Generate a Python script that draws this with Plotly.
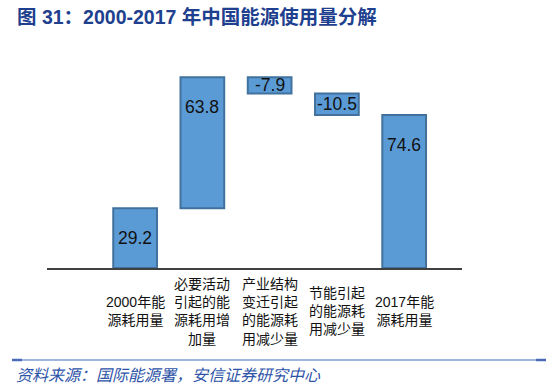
import plotly.graph_objects as go

categories = ["2000年能<br>源耗用量", "必要活动<br>引起的能<br>源耗用增<br>加量", "产业结构<br>变迁引起<br>的能源耗<br>用减少量", "节能引起<br>的能源耗<br>用减少量", "2017年能<br>源耗用量"]
values = [29.2, 63.8, -7.9, -10.5, 74.6]
measures = ["absolute", "relative", "relative", "relative", "total"]
labels = ["29.2", "63.8", "-7.9", "-10.5", "74.6"]

fill = "#5B9BD5"
edge = "#41719C"
font_fam = "Liberation Sans, Arial, Noto Sans CJK SC"

idx = list(range(len(categories)))

fig = go.Figure()
fig.add_trace(go.Waterfall(
    x=idx, y=values, measure=measures,
    width=0.65,
    increasing=dict(marker=dict(color=fill, line=dict(color=edge, width=2))),
    decreasing=dict(marker=dict(color=fill, line=dict(color=edge, width=2))),
    totals=dict(marker=dict(color=fill, line=dict(color=edge, width=2))),
    connector=dict(visible=False),
    hoverinfo="skip",
    showlegend=False,
))

# compute bar tops/bottoms from data for label placement
running = 0.0
annotations = []
for i, (v, m, lab) in enumerate(zip(values, measures, labels)):
    if m == "absolute":
        lo, hi = 0, v
        running = v
    elif m == "total":
        lo, hi = 0, running
    else:
        start = running
        running = running + v
        lo, hi = min(start, running), max(start, running)
    if hi - lo > 20:
        annotations.append(dict(x=i, y=hi, xref="x", yref="y", text=lab, showarrow=False,
                                yanchor="middle", yshift=-30,
                                font=dict(family=font_fam, size=17.5, color="#111111")))
    else:
        annotations.append(dict(x=i, y=(hi + lo) / 2, xref="x", yref="y", text=lab, showarrow=False,
                                yanchor="middle",
                                font=dict(family=font_fam, size=17.5, color="#111111")))

for i, c in enumerate(categories):
    annotations.append(dict(x=i, y=0, xref="x", yref="paper", text=c, showarrow=False,
                            yanchor="middle", xanchor="center", yshift=-43, align="center",
                            font=dict(family=font_fam, size=14, color="#111111")))

annotations.append(dict(x=15, y=17, xref="paper", yref="paper", text="<b>图 31：2000-2017 年中国能源使用量分解</b>",
                        showarrow=False, xanchor="left", yanchor="middle",
                        font=dict(family=font_fam, size=19.5, color="#1F3F8F")))
annotations.append(dict(x=14, y=374, xref="paper", yref="paper", text="<i>资料来源：国际能源署，安信证券研究中心</i>",
                        showarrow=False, xanchor="left", yanchor="middle",
                        font=dict(family="Noto Sans CJK SC", size=16, color="#2E54A8")))

W, H = 550, 387
ml, mr, mt, mb = 47, 88, 63, 119
# convert pixel positions of title/source to paper coords
ph = H - mt - mb
pw = W - ml - mr
for a in annotations[-2:]:
    a["x"] = (a["x"] - ml) / pw
    a["y"] = (H - mb - a["y"]) / ph

fig.update_layout(
    width=W, height=H,
    margin=dict(l=ml, r=mr, t=mt, b=mb, pad=0),
    paper_bgcolor="white", plot_bgcolor="white",
    hovermode=False,
    xaxis=dict(range=[-1.31, 4.86], showticklabels=False, showgrid=False, zeroline=False,
               showline=True, linecolor="#404040", linewidth=1.5, ticks=""),
    yaxis=dict(range=[0, 100], visible=False, showgrid=False, zeroline=False),
    annotations=annotations,
    shapes=[
        dict(type="line", xref="paper", yref="paper",
             x0=(12 - ml) / pw, x1=(546 - ml) / pw,
             y0=(H - mb - 360) / ph, y1=(H - mb - 360) / ph,
             line=dict(color="#7F9FD6", width=1.5)),
        dict(type="line", xref="paper", yref="paper",
             x0=(12 - ml) / pw, x1=(22 - ml) / pw,
             y0=(H - mb - 360) / ph, y1=(H - mb - 360) / ph,
             line=dict(color="#4A6CB8", width=2.5)),
        dict(type="line", xref="paper", yref="paper",
             x0=(536 - ml) / pw, x1=(546 - ml) / pw,
             y0=(H - mb - 360) / ph, y1=(H - mb - 360) / ph,
             line=dict(color="#4A6CB8", width=2.5)),
    ],
)

fig.write_html("out.html",
               config={"displayModeBar": False, "staticPlot": True},
               post_script="document.body.style.margin='0';document.body.style.padding='0';document.body.style.overflow='hidden';")
